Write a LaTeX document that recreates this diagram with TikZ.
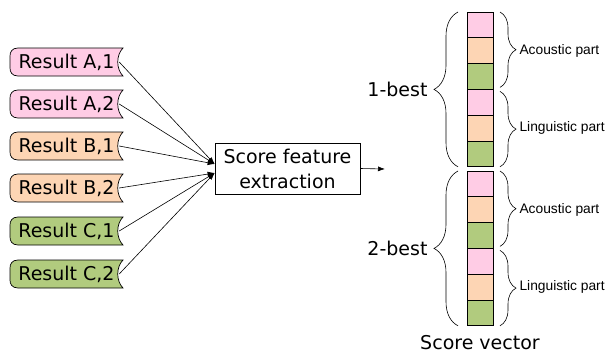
\documentclass[tikz,border=0pt]{standalone}
\usepackage{fontspec}
\setmainfont{DejaVu Sans}
\newfontfamily\smallsans{Liberation Sans}
\usepackage{xcolor}
\usepackage{tikz}
\usetikzlibrary{arrows.meta, positioning, decorations.pathreplacing}
\definecolor{tagpink}{HTML}{FFCCE5}
\definecolor{tagpeach}{HTML}{FDD5B4}
\definecolor{taggreen}{HTML}{B1CB7E}

\begin{document}
\begin{tikzpicture}[
  x=1pt, y=-1pt,
  tag/.style={
    minimum width=113pt,
    minimum height=28pt,
    inner sep=0pt,
    font=\fontsize{19}{23}\selectfont
  },
  fbox/.style={
    draw,
    line width=0.8pt,
    minimum width=145pt,
    minimum height=51pt,
    align=center,
    font=\fontsize{19}{25}\selectfont
  },
  cell/.style={
    draw,
    line width=0.8pt,
    minimum width=26pt,
    minimum height=25.8pt,
    inner sep=0pt,
    outer sep=0pt
  },
  arr/.style={
    -{Latex[length=7pt,width=5pt]},
    line width=0.6pt
  },
  brc/.style={
    decorate,
    decoration={brace, amplitude=#1},
    line width=0.6pt
  },
  biglbl/.style={font=\fontsize{19}{23}\selectfont},
  smlbl/.style={font=\smallsans\fontsize{13.8}{16}\selectfont}
]

\useasboundingbox (0,0) rectangle (607,356);

% result tags
\foreach \nm/\yy/\col/\txt in {ra1/62/tagpink/{Result A,1}, ra2/104/tagpink/{Result A,2},
    rb1/146/tagpeach/{Result B,1}, rb2/188/tagpeach/{Result B,2},
    rc1/231/taggreen/{Result C,1}, rc2/274/taggreen/{Result C,2}} {
  \filldraw[fill=\col, line width=0.7pt] (123,\yy-14) -- (18,\yy-14)
    .. controls (12,\yy-14) and (10,\yy-10) .. (10,\yy-6) -- (10,\yy+6)
    .. controls (10,\yy+10) and (12,\yy+14) .. (18,\yy+14) -- (123,\yy+14)
    .. controls (116,\yy+7) and (116,\yy-7) .. cycle;
  \node [tag] (\nm) at (66.5,\yy) {\txt};
}

\node [fbox] (sfe) at (287.5,168.5) {Score feature\\extraction};

\coordinate (inup) at ([yshift=4.5pt]sfe.west);
\coordinate (indn) at ([yshift=-4.5pt]sfe.west);
\coordinate (vecin) at (385,169);

\foreach \nm in {ra1,ra2,rb1}
  \draw [arr] ([xshift=-4pt]\nm.east) -- (inup);
\foreach \nm in {rb2,rc1,rc2}
  \draw [arr] ([xshift=-4pt]\nm.east) -- (indn);

\draw [arr] (sfe.east) -- (vecin);

% score vector
\foreach \col [count=\i] in {tagpink,tagpeach,taggreen,tagpink,tagpeach,taggreen} {
  \node [cell, fill=\col] (c\i) at (480,{12+(\i-0.5)*25.8}) {};
  \node [cell, fill=\col] (d\i) at (480,{171+(\i-0.5)*25.8}) {};
}

\draw [brc=24pt] ([xshift=-9pt]c6.south west) -- ([xshift=-9pt]c1.north west);
\draw [brc=24pt] ([xshift=-9pt]d6.south west) -- ([xshift=-9pt]d1.north west);

\draw [brc=16pt] ([xshift=7pt]c1.north east) -- ([xshift=7pt,yshift=2pt]c3.south east);
\draw [brc=16pt] ([xshift=7pt,yshift=-2pt]c4.north east) -- ([xshift=7pt]c6.south east);
\draw [brc=16pt] ([xshift=7pt]d1.north east) -- ([xshift=7pt,yshift=2pt]d3.south east);
\draw [brc=16pt] ([xshift=7pt,yshift=-2pt]d4.north east) -- ([xshift=7pt]d6.south east);

\node [biglbl, left=36pt of c3.south west] (best1) {1-best};
\node [biglbl, left=36pt of d3.south west] (best2) {2-best};

\node [smlbl, right=23pt of c2.east] (ac1) {Acoustic part};
\node [smlbl, right=23pt of c5.east] (li1) {Linguistic part};
\node [smlbl, right=23pt of d2.east] (ac2) {Acoustic part};
\node [smlbl, right=23pt of d5.east] (li2) {Linguistic part};

\node [biglbl, below=6pt of d6] (svec) {Score vector};

\end{tikzpicture}
\end{document}
